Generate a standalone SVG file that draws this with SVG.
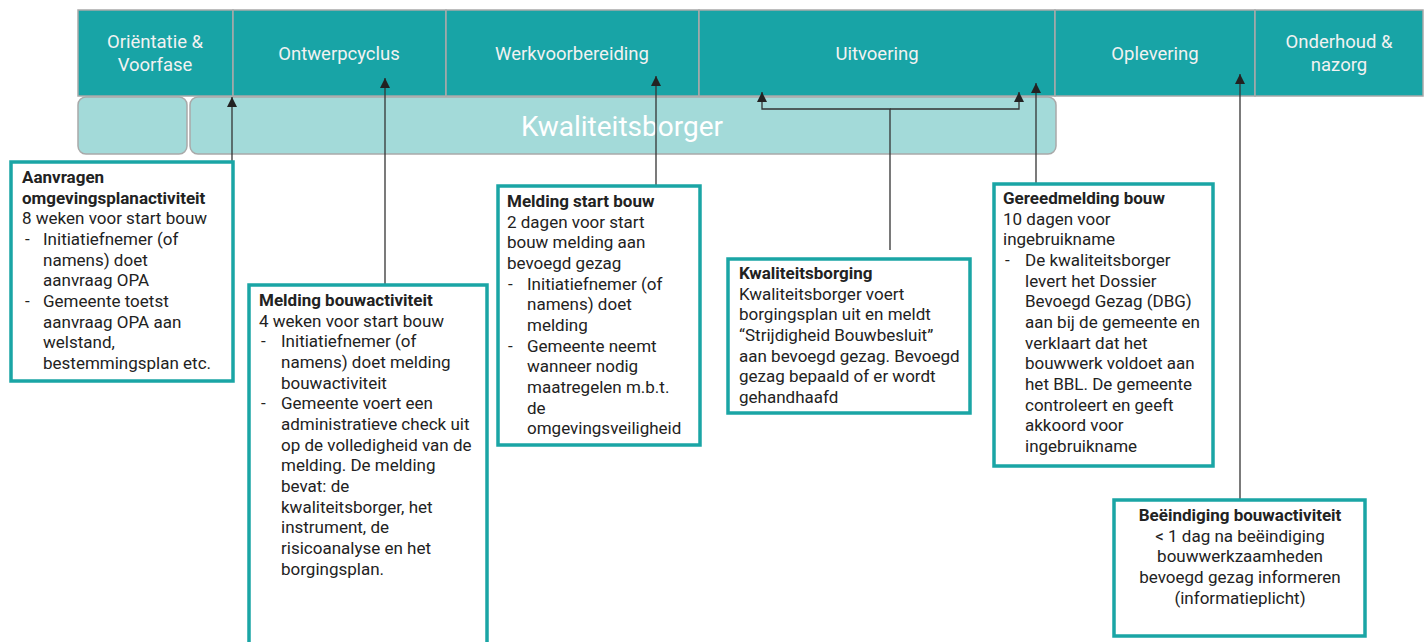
<svg xmlns="http://www.w3.org/2000/svg" width="1426" height="642" viewBox="0 0 1426 642">
<style>
.phase{fill:#18A4A6;stroke:#A9A9A9;stroke-width:1.5}
.ph{font-family:Roboto,"Noto Sans",sans-serif;font-size:18.5px;fill:#F2F2F2;text-anchor:middle}
.kb{fill:#A3DAD9;stroke:#A9A9A9;stroke-width:1.5}
.box{fill:#FFFFFF;stroke:#1AA5A5;stroke-width:3.5}
.t{font-family:Roboto,"Noto Sans",sans-serif;font-size:17px;fill:#222222}
.b{font-weight:bold}
.conn{fill:none;stroke:#333333;stroke-width:1.3}
</style>
<defs>
<marker id="arr" markerUnits="userSpaceOnUse" markerWidth="10" markerHeight="11" refX="10" refY="5" orient="auto" viewBox="0 0 10 10">
<path d="M0,0 L10,5 L0,10 z" fill="#222222"/>
</marker>
</defs>
<g id="phases">
<rect class="phase" x="78" y="10" width="155" height="86"/>
<rect class="phase" x="233" y="10" width="213" height="86"/>
<rect class="phase" x="446" y="10" width="253" height="86"/>
<rect class="phase" x="699" y="10" width="356" height="86"/>
<rect class="phase" x="1055" y="10" width="200" height="86"/>
<rect class="phase" x="1255" y="10" width="168" height="86"/>
<text class="ph" x="155" y="48">Oriëntatie &amp;</text>
<text class="ph" x="155" y="71">Voorfase</text>
<text class="ph" x="339" y="60">Ontwerpcyclus</text>
<text class="ph" x="572" y="60">Werkvoorbereiding</text>
<text class="ph" x="877" y="60">Uitvoering</text>
<text class="ph" x="1155" y="60">Oplevering</text>
<text class="ph" x="1339" y="48">Onderhoud &amp;</text>
<text class="ph" x="1339" y="71">nazorg</text>
</g>
<g id="kwaliteitsborger">
<rect class="kb" x="78" y="97" width="109" height="57" rx="8"/>
<rect class="kb" x="190" y="97" width="866" height="57" rx="8"/>
<text x="622" y="136" style="font-family:Roboto,'Noto Sans',sans-serif;font-size:28px;fill:#FFFFFF;text-anchor:middle">Kwaliteitsborger</text>
</g>
<g id="connectors">
<path class="conn" d="M232,162 V97" marker-end="url(#arr)"/>
<path class="conn" d="M385,285 V78" marker-end="url(#arr)"/>
<path class="conn" d="M656,186 V76" marker-end="url(#arr)"/>
<path class="conn" d="M890,250 V109 H762 V92" marker-end="url(#arr)"/>
<path class="conn" d="M890,109 H1019 V92" marker-end="url(#arr)"/>
<path class="conn" d="M1036,184 V83" marker-end="url(#arr)"/>
<path class="conn" d="M1240,500 V74" marker-end="url(#arr)"/>
</g>
<g id="aanvragen">
<rect class="box" x="11" y="162" width="222" height="219"/>
<text class="t"><tspan class="b" x="22" y="183">Aanvragen</tspan><tspan class="b" x="22" y="203.67">omgevingsplanactiviteit</tspan><tspan x="22" y="224.33">8 weken voor start bouw</tspan><tspan x="25" y="245">-</tspan><tspan x="43" y="245">Initiatiefnemer (of</tspan><tspan x="43" y="265.67">namens) doet</tspan><tspan x="43" y="286.33">aanvraag OPA</tspan><tspan x="25" y="307">-</tspan><tspan x="43" y="307">Gemeente toetst</tspan><tspan x="43" y="327.67">aanvraag OPA aan</tspan><tspan x="43" y="348.33">welstand,</tspan><tspan x="43" y="369">bestemmingsplan etc.</tspan></text>
</g>
<g id="melding-bouwactiviteit">
<rect class="box" x="249" y="285" width="238" height="370"/>
<text class="t"><tspan class="b" x="259" y="306">Melding bouwactiviteit</tspan><tspan x="259" y="326.67">4 weken voor start bouw</tspan><tspan x="261" y="347.33">-</tspan><tspan x="281" y="347.33">Initiatiefnemer (of</tspan><tspan x="281" y="368">namens) doet melding</tspan><tspan x="281" y="388.67">bouwactiviteit</tspan><tspan x="261" y="409.33">-</tspan><tspan x="281" y="409.33">Gemeente voert een</tspan><tspan x="281" y="430">administratieve check uit</tspan><tspan x="281" y="450.67">op de volledigheid van de</tspan><tspan x="281" y="471.33">melding. De melding</tspan><tspan x="281" y="492">bevat: de</tspan><tspan x="281" y="512.67">kwaliteitsborger, het</tspan><tspan x="281" y="533.33">instrument, de</tspan><tspan x="281" y="554">risicoanalyse en het</tspan><tspan x="281" y="574.67">borgingsplan.</tspan></text>
</g>
<g id="melding-start-bouw">
<rect class="box" x="498" y="186" width="202" height="259"/>
<text class="t"><tspan class="b" x="507" y="207">Melding start bouw</tspan><tspan x="507" y="227.67">2 dagen voor start</tspan><tspan x="507" y="248.33">bouw melding aan</tspan><tspan x="507" y="269">bevoegd gezag</tspan><tspan x="508" y="289.67">-</tspan><tspan x="527" y="289.67">Initiatiefnemer (of</tspan><tspan x="527" y="310.33">namens) doet</tspan><tspan x="527" y="331">melding</tspan><tspan x="508" y="351.67">-</tspan><tspan x="527" y="351.67">Gemeente neemt</tspan><tspan x="527" y="372.33">wanneer nodig</tspan><tspan x="527" y="393">maatregelen m.b.t.</tspan><tspan x="527" y="413.67">de</tspan><tspan x="527" y="434.33">omgevingsveiligheid</tspan></text>
</g>
<g id="kwaliteitsborging">
<rect class="box" x="728" y="259" width="242" height="154"/>
<text class="t"><tspan class="b" x="739" y="279">Kwaliteitsborging</tspan><tspan x="739" y="299.67">Kwaliteitsborger voert</tspan><tspan x="739" y="320.33">borgingsplan uit en meldt</tspan><tspan x="739" y="341">“Strijdigheid Bouwbesluit”</tspan><tspan x="739" y="361.67">aan bevoegd gezag. Bevoegd</tspan><tspan x="739" y="382.33">gezag bepaald of er wordt</tspan><tspan x="739" y="403">gehandhaafd</tspan></text>
</g>
<g id="gereedmelding">
<rect class="box" x="994" y="184" width="219" height="282"/>
<text class="t"><tspan class="b" x="1003" y="204">Gereedmelding bouw</tspan><tspan x="1003" y="224.67">10 dagen voor</tspan><tspan x="1003" y="245.33">ingebruikname</tspan><tspan x="1005" y="266">-</tspan><tspan x="1025" y="266">De kwaliteitsborger</tspan><tspan x="1025" y="286.67">levert het Dossier</tspan><tspan x="1025" y="307.33">Bevoegd Gezag (DBG)</tspan><tspan x="1025" y="328">aan bij de gemeente en</tspan><tspan x="1025" y="348.67">verklaart dat het</tspan><tspan x="1025" y="369.33">bouwwerk voldoet aan</tspan><tspan x="1025" y="390">het BBL. De gemeente</tspan><tspan x="1025" y="410.67">controleert en geeft</tspan><tspan x="1025" y="431.33">akkoord voor</tspan><tspan x="1025" y="452">ingebruikname</tspan></text>
</g>
<g id="beeindiging">
<rect class="box" x="1114" y="500" width="251" height="136"/>
<text class="t" text-anchor="middle"><tspan class="b" x="1240" y="521">Beëindiging bouwactiviteit</tspan><tspan x="1240" y="541.67">&lt; 1 dag na beëindiging</tspan><tspan x="1240" y="562.33">bouwwerkzaamheden</tspan><tspan x="1240" y="583">bevoegd gezag informeren</tspan><tspan x="1240" y="603.67">(informatieplicht)</tspan></text>
</g>
</svg>
